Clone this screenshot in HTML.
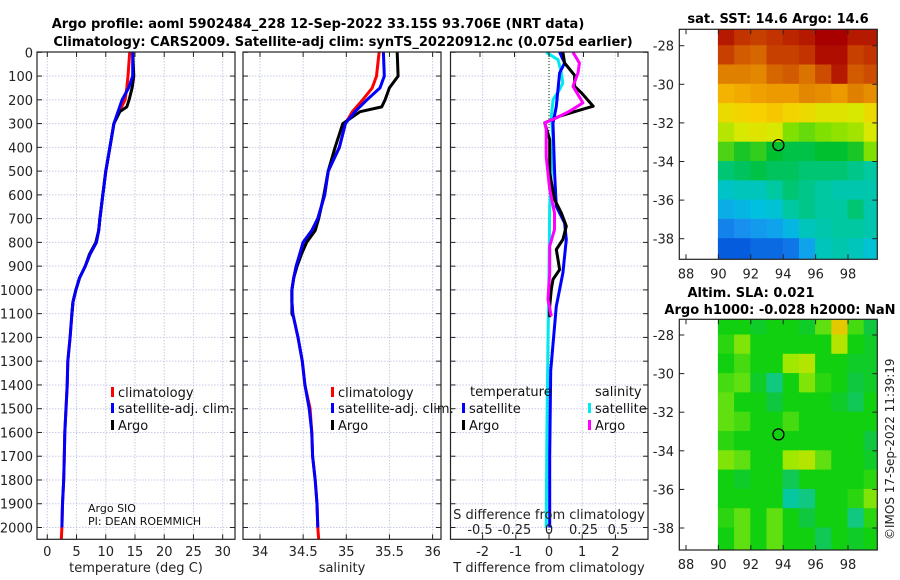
<!DOCTYPE html>
<html><head><meta charset="utf-8"><style>
html,body{margin:0;padding:0;background:#fff;}
svg{display:block;font-family:"DejaVu Sans","Liberation Sans",sans-serif;}
</style></head><body>
<svg id="fig" width="900" height="580" viewBox="0 0 900 580" xmlns="http://www.w3.org/2000/svg">
<text x="318" y="28" text-anchor="middle" font-size="13" font-weight="bold" fill="#000">Argo profile: aoml 5902484_228 12-Sep-2022 33.15S 93.706E (NRT data)</text>
<text x="343" y="46" text-anchor="middle" font-size="13" font-weight="bold" fill="#000">Climatology: CARS2009. Satellite-adj clim: synTS_20220912.nc (0.075d earlier)</text>
<text x="778" y="23" text-anchor="middle" font-size="13" font-weight="bold">sat. SST: 14.6 Argo: 14.6</text>
<text x="751" y="297" text-anchor="middle" font-size="13" font-weight="bold">Altim. SLA: 0.021</text>
<text x="780" y="314" text-anchor="middle" font-size="13" font-weight="bold">Argo h1000: -0.028 h2000: NaN</text>
<text transform="translate(894,540) rotate(-90)" font-size="12" fill="#222">©IMOS 17-Sep-2022 11:39:19</text>
<g id="plots"></g>
</svg>
<script>
// ---------- profile data ----------
const depthTclim = [0,100,150,200,250,300,400,500,600,700,750,800,850,900,950,1000,1050,1100,1200,1300,1400,1500,1600,1700,1800,1900,2000,2050];
const tempClim   = [14.1,13.8,13.6,13.3,12.3,11.4,10.7,10.0,9.5,9.0,8.8,8.4,7.3,6.5,5.5,4.9,4.4,4.2,3.9,3.5,3.4,3.2,3.0,2.9,2.8,2.6,2.5,2.4];
const tempSat    = [14.6,14.6,13.9,12.8,12.1,11.4,10.7,10.0,9.5,9.0,8.8,8.4,7.3,6.5,5.5,4.9,4.4,4.2,3.9,3.5,3.4,3.2,3.0,2.9,2.8,2.6,2.5];
const depthArgo  = [0,100,150,200,230,250,280,300,400,500,600,700,750,800,850,900,950,1000,1050,1100,1110];
const tempArgo   = [14.6,14.8,14.5,14.0,13.6,12.4,11.8,11.4,10.7,10.0,9.5,9.0,8.8,8.3,7.2,6.5,5.5,4.9,4.4,4.2,4.2];
const salClim    = [35.38,35.35,35.30,35.19,35.07,34.99,34.92,34.79,34.75,34.67,34.60,34.50,34.46,34.42,34.39,34.37,34.37,34.38,34.44,34.49,34.52,34.58,34.60,34.61,34.64,34.66,34.67,34.68];
const salSat     = [35.43,35.44,35.39,35.24,35.10,34.99,34.92,34.79,34.75,34.67,34.60,34.50,34.46,34.42,34.39,34.37,34.37,34.38,34.44,34.49,34.52,34.57,34.60,34.61,34.64,34.66,34.67];
const salArgo    = [35.59,35.60,35.50,35.45,35.41,35.16,35.04,34.96,34.87,34.79,34.74,34.68,34.64,34.54,34.48,34.43,34.39,34.37,34.37,34.37,34.38];
// difference data
const depthDT   = [0,45,97,143,171,227,248,269,297,367,508,620,676,732,788,830,872,915,956,998,1069,1115];
const dTArgo    = [0.42,0.47,0.77,0.77,0.98,1.33,0.82,0.32,-0.13,0.02,0.02,0.17,0.37,0.52,0.42,0.22,0.27,0.32,0.12,0.07,0.02,0.02];
const depthDTs  = [0,45,87,228,298,508,648,718,788,928,1069,1340,1700,2000];
const dTSat     = [0.32,0.47,0.32,0.22,0.12,0.17,0.22,0.47,0.52,0.42,0.22,0.05,0.02,0.02];
const depthDS   = [0,45,87,143,213,248,276,297,325,438,578,676,746,816,928,1041,1111];
const dSArgo    = [0.174,0.22,0.21,0.174,0.246,0.15,0.053,-0.03,-0.02,-0.02,0.005,0.04,0.04,0.005,0.005,-0.007,0.017];
const depthDSs  = [0,31,87,129,157,199,269,367,508,648,928,1209,1600,2000];
const dSSat     = [-0.02,0.065,0.09,0.10,0.077,0.03,0.017,0.03,0.017,0.005,0,-0.007,-0.015,-0.02];
// map data (1-degree cells, lon 90..99, lat -27..-39)
const mapLons = [90,91,92,93,94,95,96,97,98,99];
const mapLats = [-27,-28,-29,-30,-31,-32,-33,-34,-35,-36,-37,-38];
const sstGrid = [
[17.8,17.6,17.5,17.6,17.7,17.8,18,18,17.8,17.8],
[17.5,17.3,17.2,17.5,17.5,17.6,17.9,17.9,17.5,17.6],
[17.0,17.0,16.9,17.2,17.3,17.1,17.4,17.8,17.3,17.4],
[16.3,16.4,16.5,16.6,16.6,16.9,16.8,16.6,17.0,16.8],
[15.8,15.9,16.0,16.1,15.9,15.8,15.6,15.6,15.5,15.8],
[15.3,15.5,15.6,15.5,15.0,14.9,15.0,15.1,15.2,15.5],
[14.8,14.6,14.7,14.5,14.4,14.4,14.5,14.5,14.6,15.0],
[14.2,14.3,14.4,14.3,14.3,14.2,14.2,14.2,14.1,14.0],
[13.7,13.8,13.8,14.0,14.2,14.1,14.0,13.9,13.9,13.9],
[13.3,13.4,13.5,13.6,14.0,14.1,14.0,14.0,14.2,13.9],
[12.9,13.0,13.1,13.2,13.4,13.8,13.9,14.0,14.0,13.9],
[12.6,12.6,12.7,12.7,12.8,13.2,13.8,13.9,13.8,13.6]];
const slaGrid = [
[0,0,-0.1,0,0,-0.1,0.3,0.9,0.2,-0.2],
[0.1,0.4,0,0,0,0,0,0.6,0,-0.1],
[0,0.2,0,0,0.5,0.6,0,0,-0.1,-0.1],
[0.2,0.3,-0.1,-0.5,0,0.4,0.1,0,-0.2,-0.1],
[0.3,0,0,-0.2,0,0,0,-0.1,-0.3,0],
[0.3,0.2,0,0,0.2,0,0,0,0,0],
[0.1,0,0,0,0,0,0,0,0,-0.2],
[0.4,0.3,0,0,0.5,0.6,0.3,0,0,-0.1],
[0,-0.1,0,0,-0.3,0,0,0,0,0.1],
[0,0,0,0,-0.7,-0.5,0,0,0.1,0.4],
[0.1,0.3,0,0.3,0,-0.2,0,0,-0.5,0.1],
[0,0.3,0,0.3,0,0,-0.3,0,-0.1,0]];
const argoLon = 93.706, argoLat = -33.15;

const NS="http://www.w3.org/2000/svg";
const root=document.getElementById('plots');
function el(tag,attrs,parent,text){const e=document.createElementNS(NS,tag);for(const k in attrs)e.setAttribute(k,attrs[k]);if(text!==undefined)e.textContent=text;(parent||root).appendChild(e);return e;}

const Y0=52.3, YS=0.2376, YB=539.3, YT=52;
const yD=d=>Y0+d*YS;
function frame(x0,x1,name){const g=el('g',{});return g;}
function gridY(g,x0,x1){for(let d=100;d<=2000;d+=100){el('line',{x1:x0,x2:x1,y1:yD(d),y2:yD(d),stroke:'#c6cbe6','stroke-dasharray':'1.5,1.5','stroke-width':1},g);}}
function box(g,x0,x1,y0,y1){el('rect',{x:x0,y:y0,width:x1-x0,height:y1-y0,fill:'none',stroke:'#222','stroke-width':1.2},g);}
function yTicks(g,x0,x1,labels){for(let d=0;d<=2000;d+=100){const y=yD(d);el('line',{x1:x0,x2:x0+5,y1:y,y2:y,stroke:'#222'},g);el('line',{x1:x1-5,x2:x1,y1:y,y2:y,stroke:'#222'},g);if(labels){const t=el('text',{x:x0-4,y:y+5,'text-anchor':'end','font-size':13,fill:'#222'},g,String(d));}}}
function line(g,xs,ds,xf,color,w,name){const p=xs.map((v,i)=>xf(v).toFixed(1)+','+yD(ds[i]).toFixed(1)).join(' ');const e=el('polyline',{points:p,fill:'none',stroke:color,'stroke-width':w,'stroke-linejoin':'round'},g);}
function legend(g,x,y,color,label,name){el('rect',{x:x,y:y-10,width:3,height:10,fill:color},g);const t=el('text',{x:x+7,y:y,'font-size':13,fill:'#111'},g,label);}

// ---- Panel 1 temperature ----
{const x0=37,x1=235,g=frame(x0,x1,'temperature-panel');const xT=v=>47.3+v*5.846;
for(let v=0;v<=30;v+=5){el('line',{x1:xT(v),x2:xT(v),y1:YT,y2:YB,stroke:'#c6cbe6','stroke-dasharray':'1.5,1.5'},g);}
gridY(g,x0,x1);
line(g,tempClim,depthTclim,xT,'#f00',3,'temp-climatology-line');
line(g,tempArgo,depthArgo,xT,'#000',3,'temp-argo-line');
line(g,tempSat,depthTclim.slice(0,tempSat.length),xT,'#00f',3,'temp-satellite-line');
box(g,x0,x1,YT,YB);yTicks(g,x0,x1,true);
for(let v=0;v<=30;v+=5){el('line',{x1:xT(v),x2:xT(v),y1:YB,y2:YB-5,stroke:'#222'},g);el('line',{x1:xT(v),x2:xT(v),y1:YT,y2:YT+5,stroke:'#222'},g);const t=el('text',{x:xT(v),y:556,'text-anchor':'middle','font-size':13,fill:'#222'},g,String(v));}
const at=el('text',{x:136,y:572,'text-anchor':'middle','font-size':13,fill:'#222'},g,'temperature (deg C)');
legend(g,111,397,'#f00','climatology','legend-climatology');legend(g,111,413,'#00f','satellite-adj. clim.','legend-satellite-adj');legend(g,111,430,'#000','Argo','legend-argo');
const s1=el('text',{x:88,y:512,'font-size':11,fill:'#111'},g,'Argo SIO');
const s2=el('text',{x:88,y:525,'font-size':11,fill:'#111'},g,'PI: DEAN ROEMMICH');}

// ---- Panel 2 salinity ----
{const x0=243,x1=441,g=frame(x0,x1,'salinity-panel');const xS=v=>260+(v-34)*86.3;
for(let v=34;v<=36;v+=0.5){el('line',{x1:xS(v),x2:xS(v),y1:YT,y2:YB,stroke:'#c6cbe6','stroke-dasharray':'1.5,1.5'},g);}
gridY(g,x0,x1);
line(g,salClim,depthTclim,xS,'#f00',3,'sal-climatology-line');
line(g,salArgo,depthArgo,xS,'#000',3,'sal-argo-line');
line(g,salSat,depthTclim.slice(0,salSat.length),xS,'#00f',3,'sal-satellite-line');
box(g,x0,x1,YT,YB);yTicks(g,x0,x1,false);
[34,34.5,35,35.5,36].forEach(v=>{el('line',{x1:xS(v),x2:xS(v),y1:YB,y2:YB-5,stroke:'#222'},g);el('line',{x1:xS(v),x2:xS(v),y1:YT,y2:YT+5,stroke:'#222'},g);const t=el('text',{x:xS(v),y:556,'text-anchor':'middle','font-size':13,fill:'#222'},g,String(v));});
const at=el('text',{x:342,y:572,'text-anchor':'middle','font-size':13,fill:'#222'},g,'salinity');
legend(g,331,397,'#f00','climatology','legend-climatology');legend(g,331,413,'#00f','satellite-adj. clim.','legend-satellite-adj');legend(g,331,430,'#000','Argo','legend-argo');}

// ---- Panel 3 differences ----
{const x0=450.5,x1=648,g=frame(x0,x1,'difference-panel');const xT=v=>549+v*33.2;const xS=v=>549+v*138;
const cp=el('clipPath',{id:'cp3'},g);el('rect',{x:x0,y:YT,width:x1-x0,height:YB-YT},cp);
for(let v=-2;v<=2;v++){el('line',{x1:xT(v),x2:xT(v),y1:YT,y2:YB,stroke:'#c6cbe6','stroke-dasharray':'1.5,1.5'},g);}
gridY(g,x0,x1);
el('line',{x1:549,x2:549,y1:YT,y2:YB,stroke:'#335522','stroke-dasharray':'1,2','stroke-width':1.2},g);
const gl=el('g',{'clip-path':'url(#cp3)'},g);
line(gl,dSSat,depthDSs,xS,'#00e8f0',3,'sal-satellite-diff-line');
line(gl,dTSat,depthDTs,xT,'#00f',3,'temp-satellite-diff-line');
line(gl,dTArgo,depthDT,xT,'#000',3,'temp-argo-diff-line');
line(gl,dSArgo,depthDS,xS,'#f0f',3,'sal-argo-diff-line');
box(g,x0,x1,YT,YB);yTicks(g,x0,x1,false);
for(let v=-2;v<=2;v++){el('line',{x1:xT(v),x2:xT(v),y1:YB,y2:YB-5,stroke:'#222'},g);const t=el('text',{x:xT(v),y:556,'text-anchor':'middle','font-size':13,fill:'#222'},g,String(v));}
[-0.5,-0.25,0,0.25,0.5].forEach(v=>{el('line',{x1:xS(v),x2:xS(v),y1:YT,y2:YT+5,stroke:'#222'},g);const t=el('text',{x:xS(v),y:534,'text-anchor':'middle','font-size':13,fill:'#222'},g,String(v));});
const st=el('text',{x:549,y:519,'text-anchor':'middle','font-size':13,fill:'#222'},g,'S difference from climatology');
const at=el('text',{x:549,y:572,'text-anchor':'middle','font-size':13,fill:'#222'},g,'T difference from climatology');
const h1=el('text',{x:470,y:396,'font-size':13,fill:'#111'},g,'temperature');
const h2=el('text',{x:595,y:396,'font-size':13,fill:'#111'},g,'salinity');
legend(g,462,413,'#00f','satellite','legend-temp-satellite');legend(g,462,430,'#000','Argo','legend-temp-argo');
legend(g,588,413,'#00e8f0','satellite','legend-sal-satellite');legend(g,588,430,'#f0f','Argo','legend-sal-argo');}

// ---- Maps ----
function interp(stops,v){if(v<=stops[0][0])return stops[0][1];for(let i=1;i<stops.length;i++){if(v<=stops[i][0]){const a=stops[i-1],b=stops[i],t=(v-a[0])/(b[0]-a[0]);const ca=a[1],cb=b[1];return ca.map((c,k)=>Math.round(c+(cb[k]-c)*t));}}return stops[stops.length-1][1];}
const sstStops=[[12.5,[0,80,216]],[13,[24,144,240]],[13.5,[0,192,224]],[14,[0,200,160]],[14.5,[0,192,48]],[15,[128,224,0]],[15.5,[216,232,0]],[16,[248,208,0]],[16.5,[240,160,0]],[17,[224,128,0]],[17.5,[200,64,0]],[18,[168,0,0]]];
const slaStops=[[-0.8,[0,200,176]],[-0.5,[16,200,128]],[-0.2,[16,200,64]],[0,[16,208,16]],[0.3,[96,224,16]],[0.5,[160,232,0]],[0.8,[216,224,0]],[1,[240,176,0]]];
function drawMap(name,top,bottom,latRef,grid,stops){
const x0=679.3,x1=877.3,xL=v=>718.4+(v-90)*16.2,yL=v=>latRef+(-28-v)*19.3;
const g=el('g',{});
const id='clip'+name;const cp=el('clipPath',{id:id},g);el('rect',{x:x0,y:top,width:x1-x0,height:bottom-top},cp);
const gc=el('g',{'clip-path':'url(#'+id+')'},g);
mapLats.forEach((lat,r)=>{mapLons.forEach((lon,c)=>{const col=interp(stops,grid[r][c]);
const yTop=r===0?top:yL(lat);const yBot=r===mapLats.length-1?bottom:yL(lat-1);
const cell=el('rect',{x:xL(lon)-0.5,y:yTop-0.5,width:16.2+1,height:yBot-yTop+1,fill:'rgb('+col.join(',')+')'},gc);

});});
const mk=el('circle',{cx:xL(argoLon),cy:yL(argoLat),r:5.5,fill:'none',stroke:'#000','stroke-width':1.3},g);

el('rect',{x:x0,y:top,width:x1-x0,height:bottom-top,fill:'none',stroke:'#222','stroke-width':1.2},g);
[-28,-30,-32,-34,-36,-38].forEach(v=>{const y=yL(v);el('line',{x1:x0,x2:x0+5,y1:y,y2:y,stroke:'#222'},g);el('line',{x1:x1-5,x2:x1,y1:y,y2:y,stroke:'#222'},g);const t=el('text',{x:674,y:y+5,'text-anchor':'end','font-size':13,fill:'#222'},g,String(v));});
[88,90,92,94,96,98].forEach(v=>{const x=xL(v);el('line',{x1:x,x2:x,y1:top,y2:top+5,stroke:'#222'},g);el('line',{x1:x,x2:x,y1:bottom,y2:bottom-5,stroke:'#222'},g);const t=el('text',{x:x,y:bottom+19,'text-anchor':'middle','font-size':13,fill:'#222'},g,String(v));});}
drawMap('sst-map',29.3,259.3,45.7,sstGrid,sstStops);
drawMap('sla-map',319.3,550,335,slaGrid,slaStops);
</script>
</body></html>
